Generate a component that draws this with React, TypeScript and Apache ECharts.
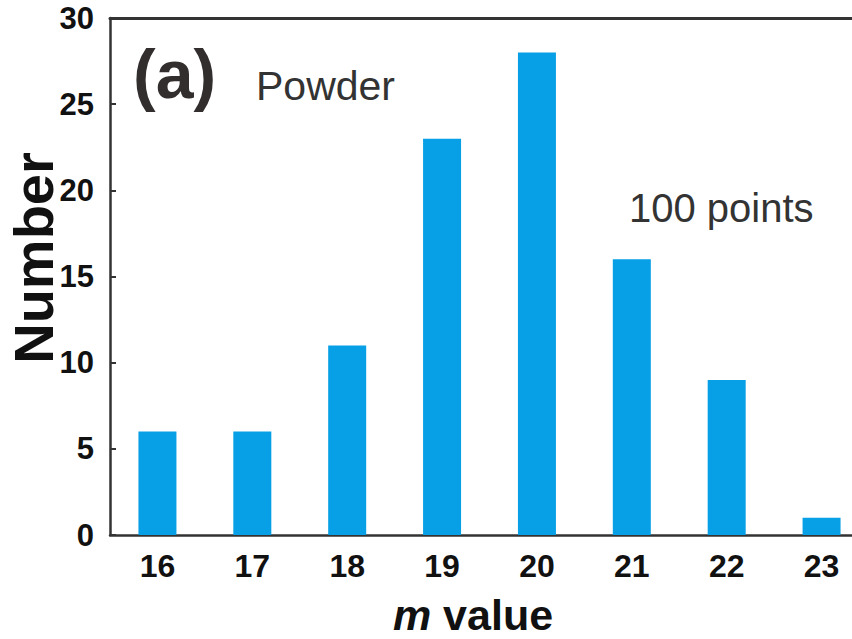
import React, { useEffect, useRef } from "react";
import * as echarts from "echarts";

// m-value histogram (powder sample, 100 points)
const mValues = ["16", "17", "18", "19", "20", "21", "22", "23"];
const counts = [6, 6, 11, 23, 28, 16, 9, 1];
const yTicks = { min: 0, max: 30, interval: 5 };

const FONT = "'Liberation Sans', Arial, Helvetica, sans-serif";
const AXIS = "#333333";
const BAR = "#079fe5";

export default function App() {
  const ref = useRef<HTMLDivElement>(null);

  useEffect(() => {
    if (!ref.current) return;
    const chart = echarts.init(ref.current, undefined, { renderer: "svg" });
    chart.setOption({
      animation: false,
      backgroundColor: "#ffffff",
      grid: {
        left: 110,
        right: 11,
        top: 18,
        bottom: 104,
        containLabel: false,
        outerBoundsMode: "none",
      },
      xAxis: [
        {
          type: "category",
          data: mValues,
          position: "bottom",
          axisLine: { lineStyle: { color: AXIS, width: 2.5 } },
          axisTick: {
            inside: true,
            length: 8,
            alignWithLabel: false,
            lineStyle: { color: AXIS, width: 2 },
          },
          axisLabel: {
            margin: 15,
            fontFamily: FONT,
            fontWeight: "bold",
            fontSize: 32,
            color: "#111111",
          },
          splitLine: { show: false },
        },
        {
          type: "category",
          data: mValues,
          position: "top",
          axisLine: { lineStyle: { color: AXIS, width: 3 } },
          axisTick: { show: false },
          axisLabel: { show: false },
          splitLine: { show: false },
        },
      ],
      yAxis: {
        type: "value",
        min: yTicks.min,
        max: yTicks.max,
        interval: yTicks.interval,
        axisLine: { show: true, lineStyle: { color: AXIS, width: 2.5 } },
        axisTick: {
          show: true,
          inside: true,
          length: 6,
          lineStyle: { color: AXIS, width: 2 },
        },
        axisLabel: {
          margin: 16,
          fontFamily: FONT,
          fontWeight: "bold",
          fontSize: 31,
          color: "#111111",
        },
        splitLine: { show: false },
      },
      series: [
        {
          type: "bar",
          data: counts,
          barWidth: 38,
          itemStyle: { color: BAR },
          xAxisIndex: 0,
        },
      ],
      graphic: [
        {
          type: "text",
          left: 133,
          top: 40,
          style: {
            text: "(a)",
            font: `bold 68px ${FONT}`,
            fill: "#332e2e",
          },
        },
        {
          type: "text",
          left: 256,
          top: 65,
          style: {
            text: "Powder",
            font: `41px ${FONT}`,
            fill: "#333333",
          },
        },
        {
          type: "text",
          left: 629,
          top: 188,
          style: {
            text: "100 points",
            font: `40px ${FONT}`,
            fill: "#333333",
          },
        },
        {
          type: "text",
          x: 33,
          y: 258,
          rotation: Math.PI / 2,
          style: {
            text: "Number",
            font: `bold 56px ${FONT}`,
            fill: "#111111",
            align: "center",
            verticalAlign: "middle",
          },
        },
        {
          type: "text",
          x: 473,
          y: 615,
          style: {
            text: "{i|m} value",
            align: "center",
            verticalAlign: "middle",
            font: `bold 43px ${FONT}`,
            fill: "#111111",
            rich: {
              i: {
                fontFamily: FONT,
                fontWeight: "bold",
                fontStyle: "italic",
                fontSize: 43,
                fill: "#111111",
              },
            },
          },
        },
      ],
    });
    return () => chart.dispose();
  }, []);

  return (
    <div
      style={{
        position: "fixed",
        left: 0,
        top: 0,
        width: 852,
        height: 639,
        overflow: "hidden",
        background: "#ffffff",
      }}
    >
      <div ref={ref} style={{ width: 880, height: 639 }} />
    </div>
  );
}
